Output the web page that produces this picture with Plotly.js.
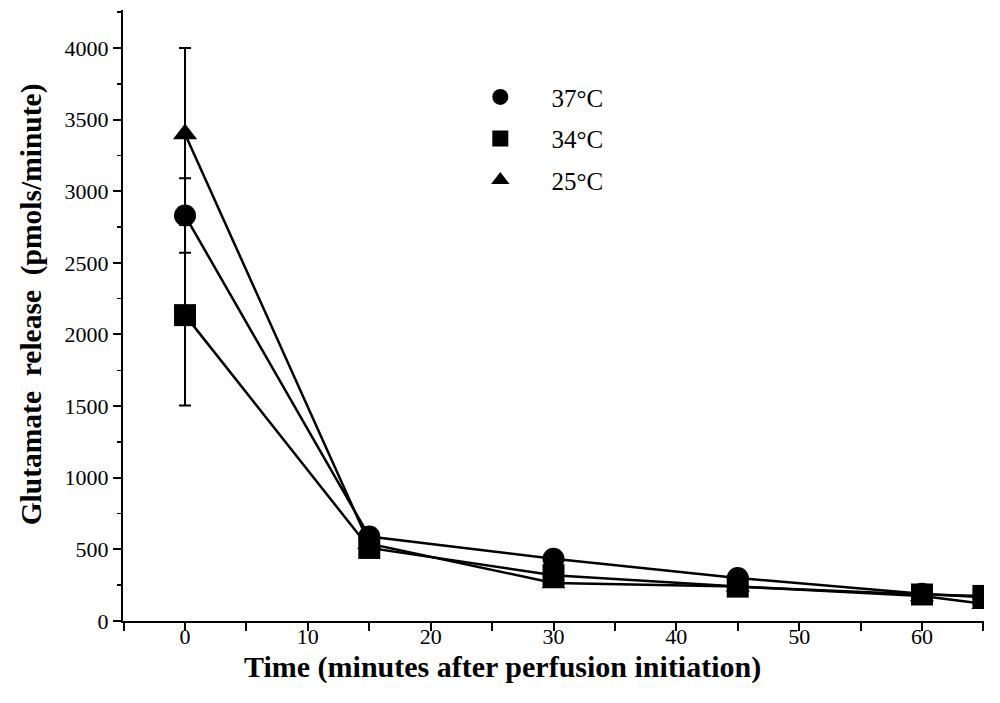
<!DOCTYPE html>
<html>
<head>
<meta charset="utf-8">
<script src="https://cdn.plot.ly/plotly-3.0.1.min.js"></script>
<style>html,body{margin:0;padding:0;background:#fff;}#chart{width:1000px;height:703px;}</style>
</head>
<body>
<div id="chart"></div>
<script>
var time = [0, 15, 30, 45, 60, 65];
var temp37 = [2830, 590, 435, 300, 190, 165];
var temp34 = [2135, 510, 320, 240, 185, 175];
var temp25 = [3400, 540, 265, 240, 175, 120];
var err37 = [260, 0, 0, 0, 0, 0];
var err34 = [630, 0, 0, 0, 0, 0];
var err25 = [600, 0, 0, 0, 0, 0];
var seriesNames = ["37°C", "34°C", "25°C"];
var xTickVals = [0, 10, 20, 30, 40, 50, 60];
var yTickVals = [0, 500, 1000, 1500, 2000, 2500, 3000, 3500, 4000];

var pad = "\u00a0\u00a0\u00a0\u00a0\u00a0";
function lineTrace(y) {
  return {x: time, y: y, type: "scatter", mode: "lines", showlegend: false, hoverinfo: "skip",
          line: {color: "#000", width: 2.5}};
}
function markerTrace(y, err, name, sym, size, grp) {
  return {
    x: time, y: y, name: pad + name, type: "scatter", mode: "markers",
    legendgroup: grp,
    marker: {color: "#000", symbol: sym, size: size},
    error_y: {type: "data", array: err, visible: true, color: "#000", thickness: 2, width: 6}
  };
}
var traces = [
  lineTrace(temp37), lineTrace(temp34), lineTrace(temp25),
  markerTrace(temp37, err37, seriesNames[0], "circle", 22, "a"),
  markerTrace(temp34, err34, seriesNames[1], "square", 22, "b"),
  markerTrace(temp25, err25, seriesNames[2], "triangle-up", 21, "c"),
  // carrier so the tick-label axis (x2) is drawn; draws nothing
  {x: time, y: temp37, xaxis: "x2", yaxis: "y", type: "scatter", mode: "none", showlegend: false, hoverinfo: "skip"}
];

var font = "Liberation Serif, Times New Roman, serif";
var xRange = [-5.05, 65.05];
var layout = {
  width: 1000, height: 703,
  margin: {l: 123, r: 16, t: 10, b: 82},
  paper_bgcolor: "#fff", plot_bgcolor: "#fff",
  font: {family: font, color: "#000", size: 22},
  showlegend: true,
  legend: {x: 0.415, y: 0.895, xanchor: "left", yanchor: "top", bgcolor: "rgba(0,0,0,0)",
           font: {family: font, size: 25, color: "#000"}, tracegroupgap: 6, itemsizing: "trace"},
  xaxis: {
    range: xRange, showgrid: false, zeroline: false, showline: true, linecolor: "#000", linewidth: 2,
    tickmode: "array", tickvals: xTickVals, ticks: "outside", ticklen: 8, tickwidth: 2, tickcolor: "#000",
    showticklabels: false,
    minor: {dtick: 5, tick0: 0, ticks: "outside", ticklen: 8, tickwidth: 2, tickcolor: "#000"}
  },
  xaxis2: {
    overlaying: "x", anchor: "y", side: "bottom", range: xRange, showgrid: false, zeroline: false,
    showline: false, ticks: "", tickmode: "array", tickvals: xTickVals, ticklabelstandoff: 0,
    tickfont: {family: font, size: 22, color: "#000"}
  },
  yaxis: {
    range: [0, 4265], showgrid: false, zeroline: false, showline: true, linecolor: "#000", linewidth: 2,
    tickmode: "array", tickvals: yTickVals, ticks: "outside", ticklen: 8, tickwidth: 2, tickcolor: "#000",
    tickfont: {family: font, size: 22, color: "#000"},
    minor: {dtick: 250, tick0: 0, ticks: "outside", ticklen: 4, tickwidth: 1.5, tickcolor: "#000"},
    title: {text: "<b>\u00a0\u00a0\u00a0Glutamate\u00a0\u00a0release\u00a0\u00a0(pmols/minute)</b>", font: {family: font, size: 29.5, color: "#000"}, standoff: 14}
  },
  annotations: [{
    text: "<b>Time (minutes after perfusion initiation)</b>", xref: "paper", yref: "paper",
    x: 0.4413, y: -0.0745, xanchor: "center", yanchor: "middle", showarrow: false,
    font: {family: font, size: 30, color: "#000"}
  }]
};
Plotly.newPlot("chart", traces, layout, {displayModeBar: false, staticPlot: true});
</script>
</body>
</html>
